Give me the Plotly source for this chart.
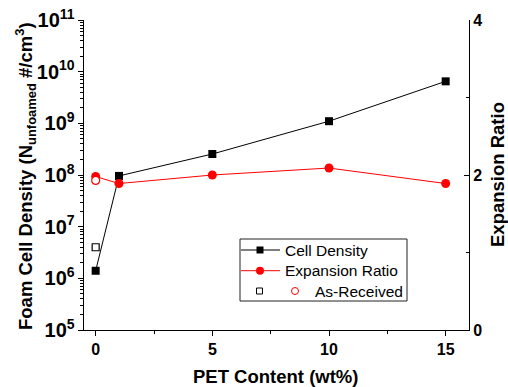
import plotly.graph_objects as go

# PET content (wt%) of each blend
pet_content = [0, 1, 5, 10, 15]
# Foam cell density (cells per cm^3 of unfoamed polymer)
cell_density = [1.4e6, 9.6e7, 2.55e8, 1.1e9, 6.5e9]
# Volume expansion ratio
expansion_ratio = [1.98, 1.89, 2.00, 2.09, 1.89]
# As-received reference material (0 wt% PET)
as_received_x = [0]
as_received_density = [4.0e6]
as_received_ratio = [1.93]

FONT = "Liberation Sans, Arial, Helvetica, sans-serif"
W, H = 508, 387
L, R, T, B = 84, 39, 20, 57

fig = go.Figure()

fig.add_trace(go.Scatter(
    x=pet_content, y=cell_density, mode="lines+markers", name="Cell Density",
    line=dict(color="black", width=1),
    marker=dict(symbol="square", size=8, color="black"),
    showlegend=False, yaxis="y"))
fig.add_trace(go.Scatter(
    x=as_received_x, y=as_received_density, mode="markers", name="As-Received",
    marker=dict(symbol="square", size=7, color="white",
                line=dict(color="black", width=1.2)),
    showlegend=False, yaxis="y"))
fig.add_trace(go.Scatter(
    x=pet_content, y=expansion_ratio, mode="lines+markers", name="Expansion Ratio",
    line=dict(color="#ff0000", width=1),
    marker=dict(symbol="circle", size=9, color="#ff0000"),
    showlegend=False, yaxis="y2"))
fig.add_trace(go.Scatter(
    x=as_received_x, y=as_received_ratio, mode="markers", name="As-Received",
    marker=dict(symbol="circle", size=8, color="white",
                line=dict(color="#ff0000", width=1.2)),
    showlegend=False, yaxis="y2"))

tick_font = dict(family=FONT, size=16, color="black", weight="bold")
title_font = dict(family=FONT, size=18.5, color="black", weight="bold")

fig.update_layout(
    width=W, height=H,
    margin=dict(l=L, r=R, t=T, b=B, autoexpand=False),
    paper_bgcolor="white", plot_bgcolor="white",
    font=dict(family=FONT, size=16, color="black"),
    showlegend=False,
    xaxis=dict(
        range=[-0.5, 16], tickvals=[0, 5, 10, 15], ticks="outside", ticklen=5,
        tickwidth=1.2, tickcolor="black",
        minor=dict(tickvals=[2.5, 7.5, 12.5], ticks="outside", ticklen=3,
                   tickwidth=1, tickcolor="black", showgrid=False),
        showline=True, linecolor="black", linewidth=1.3, showgrid=False,
        zeroline=False, tickfont=tick_font),
    yaxis=dict(
        type="log", range=[5, 11], dtick=1, exponentformat="power",
        ticks="outside", ticklen=5, tickwidth=1.2, tickcolor="black",
        minor=dict(dtick="D1", ticks="outside", ticklen=3, tickwidth=1,
                   tickcolor="black", showgrid=False),
        showline=True, linecolor="black", linewidth=1.3, showgrid=False,
        zeroline=False, tickfont=tick_font),
    yaxis2=dict(
        overlaying="y", side="right", range=[0, 4], tickvals=[0, 2, 4],
        ticks="inside", ticklen=5, tickwidth=1.2, tickcolor="black",
        minor=dict(tickvals=[1, 3], ticks="inside", ticklen=3, tickwidth=1,
                   tickcolor="black", showgrid=False),
        showline=True, linecolor="black", linewidth=1.3, showgrid=False,
        zeroline=False, tickfont=tick_font),
)


def px(xp):
    """Horizontal pixel position -> paper fraction of the plot area."""
    return (xp - L) / (W - L - R)


def py(yp):
    """Vertical pixel position -> paper fraction of the plot area."""
    return 1 - (yp - T) / (H - T - B)


annotations = [
    dict(text="PET Content (wt%)", x=px(275), y=py(376), font=title_font),
    dict(text="Foam Cell Density (N<sub>unfoamed</sub> #/cm<sup>3</sup>)",
         x=px(26), y=py(176), textangle=-90, font=title_font),
    dict(text="Expansion Ratio", x=px(497), y=py(175), textangle=-90,
         font=title_font),
]
for a in annotations:
    a.update(xref="paper", yref="paper", showarrow=False,
             xanchor="center", yanchor="middle")

# Legend drawn by hand: the last row pairs two symbols with one label
leg_font = dict(family=FONT, size=15.5, color="black")
rows = [250, 270.7, 291]
legend_labels = ["Cell Density", "Expansion Ratio", "As-Received"]
label_x = [283, 283, 313]
for label, lx, ry in zip(legend_labels, label_x, rows):
    annotations.append(dict(text=label, x=px(lx), y=py(ry), xref="paper",
                            yref="paper", showarrow=False, xanchor="left",
                            yanchor="middle", font=leg_font))

shapes = [
    dict(type="rect", x0=px(240), x1=px(407), y0=py(239), y1=py(301),
         line=dict(color="#222222", width=1), fillcolor="white", layer="below"),
    # Cell Density sample
    dict(type="line", x0=px(241), x1=px(280), y0=py(rows[0]), y1=py(rows[0]),
         line=dict(color="black", width=1)),
    dict(type="rect", x0=px(256.5), x1=px(263.5), y0=py(rows[0] - 3.5),
         y1=py(rows[0] + 3.5), fillcolor="black", line=dict(width=0)),
    # Expansion Ratio sample
    dict(type="line", x0=px(241), x1=px(280), y0=py(rows[1]), y1=py(rows[1]),
         line=dict(color="#ff0000", width=1)),
    dict(type="circle", x0=px(256), x1=px(264), y0=py(rows[1] - 4),
         y1=py(rows[1] + 4), fillcolor="#ff0000", line=dict(width=0)),
    # As-Received samples
    dict(type="rect", x0=px(256.5), x1=px(262.5), y0=py(rows[2] - 3),
         y1=py(rows[2] + 3), fillcolor="white",
         line=dict(color="black", width=1)),
    dict(type="circle", x0=px(291.5), x1=px(298.5), y0=py(rows[2] - 3.5),
         y1=py(rows[2] + 3.5), fillcolor="white",
         line=dict(color="#ff0000", width=1)),
]
for s in shapes:
    s.update(xref="paper", yref="paper")

fig.update_layout(annotations=annotations, shapes=shapes)

fig.write_html("out.html")
